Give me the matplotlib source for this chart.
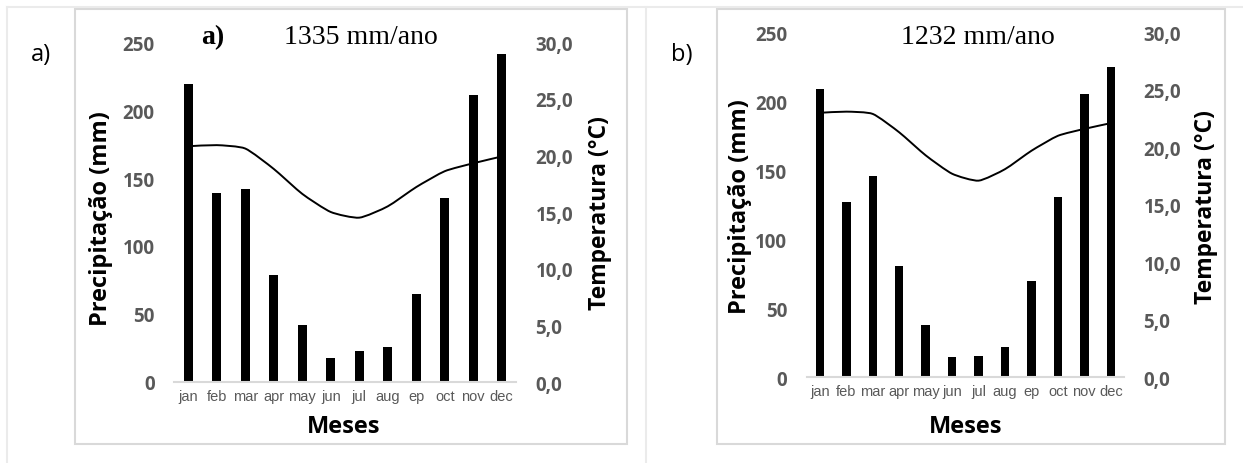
import matplotlib
matplotlib.use("Agg")
import matplotlib.pyplot as plt
from matplotlib.path import Path
from matplotlib.patches import PathPatch, Rectangle
from matplotlib.lines import Line2D
import numpy as np

months = ["jan", "feb", "mar", "apr", "may", "jun", "jul", "aug", "ep", "oct", "nov", "dec"]
precip_a = [219, 139, 142, 79, 42, 18, 22.5, 26, 65, 135, 211, 241]
temp_a = [20.8, 20.9, 20.6, 18.8, 16.6, 15.0, 14.5, 15.5, 17.2, 18.6, 19.3, 19.9]
precip_b = [209, 127, 146, 81, 38, 14.5, 15.7, 22, 70, 131, 205, 225]
temp_b = [23.0, 23.1, 22.9, 21.3, 19.3, 17.7, 17.1, 18.1, 19.7, 21.0, 21.6, 22.1]
titles = ["1335 mm/ano", "1232 mm/ano"]
panel_labels = ["a)", "b)"]
left_ticks = [0, 50, 100, 150, 200, 250]
right_ticks = [0, 5, 10, 15, 20, 25, 30]

W, H = 1243, 464
fig = plt.figure(figsize=(W / 100, H / 100), dpi=100)
fig.patch.set_facecolor("white")

def fx(px):
    return px / W

def fy(py):
    return 1 - py / H

def smooth_path(xs, ys, k=10.0):
    xs = list(xs); ys = list(ys)
    n = len(xs)
    px = [xs[0]] + xs + [xs[-1]]
    py = [ys[0]] + ys + [ys[-1]]
    verts = [(xs[0], ys[0])]
    codes = [Path.MOVETO]
    for i in range(n - 1):
        j = i + 1
        c1 = (px[j] + (px[j + 1] - px[j - 1]) / k, py[j] + (py[j + 1] - py[j - 1]) / k)
        c2 = (px[j + 1] - (px[j + 2] - px[j]) / k, py[j + 1] - (py[j + 2] - py[j]) / k)
        verts += [c1, c2, (px[j + 1], py[j + 1])]
        codes += [Path.CURVE4, Path.CURVE4, Path.CURVE4]
    return Path(verts, codes)

# decorative light frames
border_outer = "#ebebeb"
border_box = "#d9d9d9"
fig.add_artist(Line2D([fx(7), fx(1243)], [fy(8), fy(8)], color=border_outer, lw=1.5))
fig.add_artist(Line2D([fx(7), fx(7)], [fy(8), fy(464)], color=border_outer, lw=1.5))
fig.add_artist(Line2D([fx(646), fx(646)], [fy(8), fy(464)], color=border_outer, lw=1.5))
for (x0, x1) in [(75, 627), (717, 1225)]:
    fig.add_artist(Rectangle((fx(x0), fy(445)), fx(x1 - x0), (445 - 10) / H,
                             fill=False, edgecolor=border_box, lw=1.5))

configs = [
    dict(pre=precip_a, tmp=temp_a, ax=(174, 516, 43, 383), title=titles[0], title_xy=(361, 38),
         inner=(213, 38), outer=panel_labels[0], outer_xy=(41, 55),
         ylab_x=101, ylab_y=219, rlab_x=600, rlab_y=213, meses=(344, 427)),
    dict(pre=precip_b, tmp=temp_b, ax=(806.7, 1124, 33.3, 378.3), title=titles[1], title_xy=(978, 38),
         inner=None, outer=panel_labels[1], outer_xy=(682, 55),
         ylab_x=740, ylab_y=207, rlab_x=1206, rlab_y=207, meses=(966, 427)),
]

tick_gray = "#595959"
for c in configs:
    x0, x1, yt, yb = c["ax"]
    ax = fig.add_axes([fx(x0), fy(yb), (x1 - x0) / W, (yb - yt) / H])
    x = np.arange(len(months))
    ax.bar(x, c["pre"], width=0.32, color="black", zorder=2)
    ax.set_xlim(-0.5, 11.5)
    ax.set_ylim(0, 250)
    ax.set_yticks(left_ticks)
    ax.set_yticklabels([str(t) for t in left_ticks], fontfamily="Open Sans", fontweight="bold",
                       fontsize=13.5, color=tick_gray)
    ax.set_xticks(x)
    ax.set_xticklabels(months, fontfamily=["Liberation Sans Narrow", "Liberation Sans"],
                       fontsize=10.5, color=tick_gray)
    ax.tick_params(axis="both", length=0)
    ax.tick_params(axis="y", pad=14)
    ax.tick_params(axis="x", pad=5)
    for s in ["top", "right", "left"]:
        ax.spines[s].set_visible(False)
    ax.spines["bottom"].set_color(border_box)
    ax.spines["bottom"].set_linewidth(1.5)
    ax.patch.set_alpha(0)

    ax2 = ax.twinx()
    ax2.set_ylim(0, 30)
    ax2.set_yticks(right_ticks)
    ax2.set_yticklabels([f"{t:.1f}".replace(".", ",") for t in right_ticks], fontfamily="Open Sans",
                        fontweight="bold", fontsize=13.5, color=tick_gray)
    ax2.tick_params(axis="y", length=0, pad=14)
    for s in ["top", "right", "left", "bottom"]:
        ax2.spines[s].set_visible(False)
    p = smooth_path(x, c["tmp"])
    ax2.add_patch(PathPatch(p, facecolor="none", edgecolor="black", lw=1.4, zorder=3))

    fig.text(fx(c["ylab_x"]), fy(c["ylab_y"]), "Precipitação (mm)", rotation=90, ha="center", va="center",
             fontfamily="Open Sans", fontweight="bold", fontsize=17, color="black")
    fig.text(fx(c["rlab_x"]), fy(c["rlab_y"]), "Temperatura (°C)", rotation=90, ha="center", va="center",
             fontfamily="Open Sans", fontweight="bold", fontsize=16.5, color="black")
    fig.text(fx(c["meses"][0]), fy(c["meses"][1]), "Meses", ha="center", va="center",
             fontfamily="Open Sans", fontweight="bold", fontsize=17, color="black")
    fig.text(fx(c["title_xy"][0]), fy(c["title_xy"][1]), c["title"], ha="center", va="center",
             fontfamily="Liberation Serif", fontsize=20, color="black")
    if c["inner"] is not None:
        fig.text(fx(c["inner"][0]), fy(c["inner"][1]), "a)", ha="center", va="center",
                 fontfamily="Liberation Serif", fontweight="bold", fontsize=20, color="black")
    fig.text(fx(c["outer_xy"][0]), fy(c["outer_xy"][1]), c["outer"], ha="center", va="center",
             fontfamily="Open Sans", fontsize=17, color="black")

fig.savefig("out.png", dpi=100, facecolor="white")
